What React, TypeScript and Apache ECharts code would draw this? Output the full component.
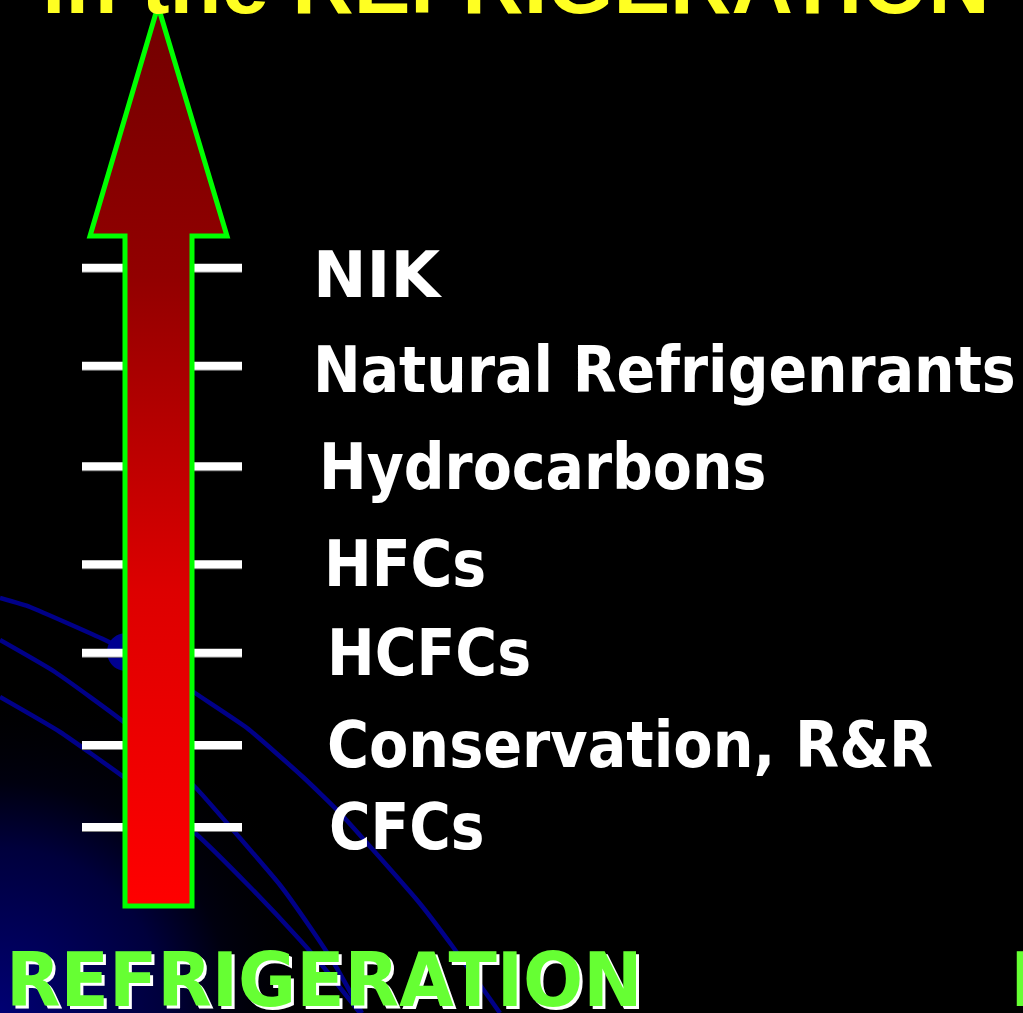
import React, { useEffect, useRef } from "react";
import * as echarts from "echarts";

// Stages of refrigerant technology, bottom (oldest) to top (newest)
const stages = [
  "CFCs",
  "Conservation, R&R",
  "HCFCs",
  "HFCs",
  "Hydrocarbons",
  "Natural Refrigenrants",
  "NIK",
];
// Position of each stage along the arrow (arbitrary progress units)
const levels = [0, 0.88, 1.87, 2.82, 3.87, 4.95, 6.0];

const titleText = "in the REFRIGERATION";
const footerText = "REFRIGERATION";

// layout-only constants
const labelX = [329, 327, 327, 324, 319, 313, 313];
const labelDy = [0, 0, 0, 0, 0, 4, 7];
const labelScale = [0.885, 0.895, 0.89, 0.89, 0.89, 0.89, 1.0];

export default function App() {
  const ref = useRef<HTMLDivElement>(null);
  useEffect(() => {
    if (!ref.current) return;
    const chart = echarts.init(ref.current, null, { renderer: "svg" });
    const curveStyle = { stroke: "#000088", lineWidth: 4.5, fill: null, lineJoin: "round" };
    const footerFont = 'bold 74px "DejaVu Sans"';
    const option: any = {
      animation: false,
      backgroundColor: "#000000",
      grid: { left: 0, right: 0, top: 174.6, bottom: 92.8 },
      xAxis: { type: "value", min: 0, max: 1, show: false },
      yAxis: { type: "value", min: -1, max: 7, show: false },
      series: [
        {
          type: "custom",
          z: 3,
          clip: false,
          data: levels.map((v, i) => [0, v, stages[i]]),
          renderItem: (params: any, api: any) => {
            const i = params.dataIndex;
            const y = api.coord([0, api.value(1)])[1];
            return {
              type: "group",
              children: [
                {
                  type: "line",
                  shape: { x1: 82, y1: y + 1, x2: 242, y2: y + 1 },
                  style: { stroke: "#808080", lineWidth: 8 },
                },
                {
                  type: "line",
                  shape: { x1: 82, y1: y, x2: 242, y2: y },
                  style: { stroke: "#ffffff", lineWidth: 8 },
                },
                {
                  type: "text",
                  x: labelX[i],
                  y: y + labelDy[i],
                  scaleX: labelScale[i],
                  style: {
                    text: stages[i],
                    x: 0,
                    y: 0,
                    fill: "#ffffff",
                    font: 'bold 64px "DejaVu Sans"',
                    verticalAlign: "middle",
                    align: "left",
                  },
                },
              ],
            };
          },
        },
      ],
      graphic: {
        elements: [
          {
            type: "rect",
            z: 0,
            silent: true,
            shape: { x: 0, y: 0, width: 1023, height: 1013 },
            style: {
              fill: new echarts.graphic.RadialGradient(
                0,
                1013,
                330,
                [
                  { offset: 0, color: "rgba(0,0,115,1)" },
                  { offset: 0.5, color: "rgba(0,0,60,1)" },
                  { offset: 0.7, color: "rgba(0,0,15,1)" },
                  { offset: 1, color: "rgba(0,0,0,0)" },
                ],
                true
              ),
            },
          },
          {
            type: "polyline",
            z: 1,
            shape: {
              points: [[0, 598], [30, 607], [105, 640], [160, 668], [195, 693], [247, 728], [303, 777], [340, 813], [417, 900], [453, 947], [500, 1013]],
              smooth: 0.15,
            },
            style: curveStyle,
          },
          {
            type: "polyline",
            z: 1,
            shape: {
              points: [[0, 640], [55, 672], [125, 723], [195, 787], [233, 830], [280, 885], [310, 927], [335, 965], [362, 1013]],
              smooth: 0.15,
            },
            style: curveStyle,
          },
          {
            type: "polyline",
            z: 1,
            shape: {
              points: [[0, 697], [60, 732], [125, 778], [195, 833], [250, 887], [300, 940], [330, 975], [360, 1013]],
              smooth: 0.15,
            },
            style: curveStyle,
          },
          {
            type: "circle",
            z: 2,
            shape: { cx: 126, cy: 652, r: 19 },
            style: { fill: "#000090" },
          },
          {
            type: "polygon",
            z: 5,
            shape: {
              points: [[158, 6], [227, 236], [192, 236], [192, 906], [125, 906], [125, 236], [90, 236]],
            },
            style: {
              fill: new echarts.graphic.LinearGradient(0, 0, 0, 1, [
                { offset: 0, color: "#720000" },
                { offset: 0.3, color: "#920000" },
                { offset: 0.65, color: "#dd0000" },
                { offset: 1, color: "#ff0000" },
              ]),
              stroke: "#00ff00",
              lineWidth: 5,
              lineJoin: "miter",
            },
          },
          {
            type: "text",
            z: 6,
            x: 42,
            y: -17,
            style: {
              text: titleText,
              fill: "#ffff22",
              font: 'bold 85px "Liberation Sans"',
              verticalAlign: "middle",
              align: "left",
            },
          },
          {
            type: "text",
            z: 6,
            x: 9,
            y: 983,
            scaleX: 0.957,
            silent: true,
            style: {
              text: footerText,
              fill: "#ffffff",
              font: footerFont,
              verticalAlign: "middle",
              align: "left",
            },
          },
          {
            type: "text",
            z: 7,
            x: 6,
            y: 980,
            scaleX: 0.957,
            style: {
              text: footerText,
              fill: "#66ff33",
              font: footerFont,
              verticalAlign: "middle",
              align: "left",
            },
          },
          {
            type: "text",
            z: 6,
            x: 1010,
            y: 980,
            style: {
              text: "N",
              fill: "#66ff33",
              font: footerFont,
              verticalAlign: "middle",
              align: "left",
            },
          },
        ],
      },
    };
    chart.setOption(option);
    return () => chart.dispose();
  }, []);
  return (
    <div
      ref={ref}
      style={{ position: "fixed", left: 0, top: 0, width: 1023, height: 1013 }}
    />
  );
}
